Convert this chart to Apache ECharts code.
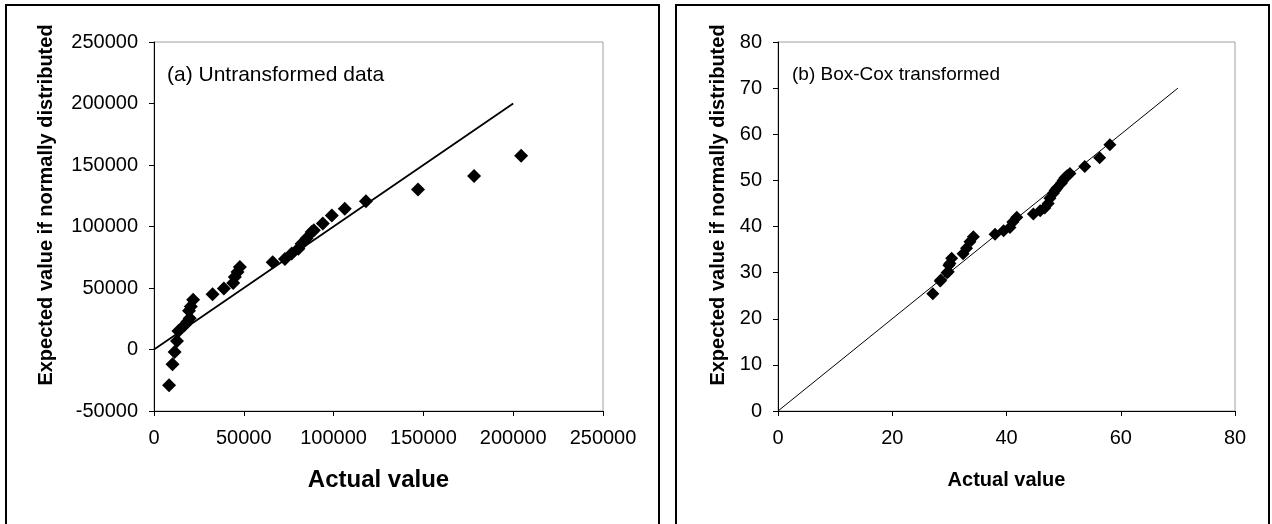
<!DOCTYPE html>
<html>
<head>
<meta charset="utf-8">
<script src="https://cdn.jsdelivr.net/npm/echarts@6/dist/echarts.min.js"></script>
<style>
  html, body { margin: 0; padding: 0; background: #fff; }
  #chart { width: 1272px; height: 524px; }
</style>
</head>
<body>
<div id="chart"></div>
<script>
// (a) untransformed data: actual value vs expected value under normality
const rawActual = [8400, 10300, 11500, 12800, 13600, 17100, 18600, 19900, 19500, 20500, 21800,
  32600, 38900, 44100, 45000, 46500, 47800, 66100, 72900, 76700, 80400, 82200, 85000, 87800,
  89000, 94000, 99000, 106200, 118000, 147000, 178200, 204400];
const rawExpected = [-29000, -12000, -2000, 7000, 15000, 20000, 22500, 25500, 31500, 35000, 40500,
  45000, 49500, 54000, 59000, 63000, 67000, 71000, 73500, 78000, 82000, 86000, 90500, 95500,
  97000, 102500, 109000, 114500, 120500, 130000, 141000, 157500];

// (b) Box-Cox transformed data
const bcActual = [27.1, 28.4, 28.5, 29.6, 29.8, 29.9, 30.1, 30.4, 32.4, 33.0, 33.6, 34.2,
  38.0, 39.5, 40.6, 41.1, 41.8, 44.7, 45.9, 46.7, 47.3, 47.6, 48.2, 48.5, 48.8, 49.6, 49.9,
  50.2, 50.6, 51.1, 53.7, 56.3, 58.1];
const bcExpected = [25.4, 28.2, 28.4, 30.0, 30.2, 31.6, 32.0, 33.1, 34.1, 35.3, 36.7, 37.8,
  38.3, 39.1, 39.8, 41.0, 42.0, 42.7, 43.4, 44.0, 45.0, 46.1, 47.2, 47.8, 48.3, 49.4, 50.0,
  50.5, 51.0, 51.5, 53.0, 54.9, 57.7];

// y = x reference lines (start and end values)
const rawRefLine = [0, 200000];
const bcRefLine = [0, 70];

// axis ranges
const rawRange = { min: -50000, max: 250000, xMin: 0, xMax: 250000, step: 50000 };
const bcRange = { yMin: 0, yMax: 80, yStep: 10, xMin: 0, xMax: 80, xStep: 20 };

const panelTitles = ['(a) Untransformed data', '(b) Box-Cox transformed'];
const xTitle = 'Actual value';
const yTitle = 'Expected value if normally distributed';

const FONT = "'Liberation Sans', Arial, sans-serif";

function zip(a, b) { return a.map((v, i) => [v, b[i]]); }

// plain integer tick labels, no thousands separators
const plain = v => String(v);

function axis(gridIndex, min, max, interval, extra) {
  return Object.assign({
    type: 'value', gridIndex, min, max, interval,
    axisLine: { show: true, onZero: false, lineStyle: { color: '#000', width: 1 } },
    axisTick: { show: true, length: 5, lineStyle: { color: '#000', width: 1 } },
    splitLine: { show: false }
  }, extra);
}

const tickLabel = margin => ({ color: '#000', fontSize: 20, fontFamily: FONT, margin, formatter: plain });

const chart = echarts.init(document.getElementById('chart'), null, { renderer: 'canvas' });

chart.setOption({
  animation: false,
  backgroundColor: '#fff',
  grid: [
    { left: 154, top: 42, width: 449, height: 369, show: true, borderColor: '#a0a0a0', borderWidth: 1, backgroundColor: 'transparent' },
    { left: 778, top: 42, width: 457, height: 369, show: true, borderColor: '#a0a0a0', borderWidth: 1, backgroundColor: 'transparent' }
  ],
  xAxis: [
    axis(0, rawRange.xMin, rawRange.xMax, rawRange.step, {
      name: xTitle, nameLocation: 'middle', nameGap: 57,
      nameTextStyle: { color: '#000', fontSize: 24, fontWeight: 'bold', fontFamily: FONT },
      axisLabel: tickLabel(17)
    }),
    axis(1, bcRange.xMin, bcRange.xMax, bcRange.xStep, {
      name: xTitle, nameLocation: 'middle', nameGap: 59,
      nameTextStyle: { color: '#000', fontSize: 20, fontWeight: 'bold', fontFamily: FONT },
      axisLabel: tickLabel(17)
    })
  ],
  yAxis: [
    axis(0, rawRange.min, rawRange.max, rawRange.step, { axisLabel: tickLabel(16) }),
    axis(1, bcRange.yMin, bcRange.yMax, bcRange.yStep, { axisLabel: tickLabel(16) })
  ],
  graphic: [
    { type: 'rect', z: -1, shape: { x: 6, y: 5, width: 653, height: 540 }, style: { fill: 'none', stroke: '#000', lineWidth: 2 } },
    { type: 'rect', z: -1, shape: { x: 676, y: 5, width: 593, height: 540 }, style: { fill: 'none', stroke: '#000', lineWidth: 2 } },
    { type: 'text', x: 46, y: 205, rotation: Math.PI / 2,
      style: { text: yTitle, fill: '#000', font: 'bold 20px ' + FONT, align: 'center', verticalAlign: 'middle' } },
    { type: 'text', x: 718, y: 205, rotation: Math.PI / 2,
      style: { text: yTitle, fill: '#000', font: 'bold 20px ' + FONT, align: 'center', verticalAlign: 'middle' } },
    { type: 'text', x: 167, y: 75,
      style: { text: panelTitles[0], fill: '#000', font: '21px ' + FONT, align: 'left', verticalAlign: 'middle' } },
    { type: 'text', x: 792, y: 75,
      style: { text: panelTitles[1], fill: '#000', font: '19px ' + FONT, align: 'left', verticalAlign: 'middle' } }
  ],
  series: [
    {
      type: 'line', xAxisIndex: 0, yAxisIndex: 0,
      data: zip(rawRefLine, rawRefLine), showSymbol: false, symbol: 'none',
      lineStyle: { color: '#000', width: 1.8 }, silent: true, z: 1
    },
    {
      type: 'scatter', xAxisIndex: 0, yAxisIndex: 0,
      data: zip(rawActual, rawExpected), symbol: 'diamond', symbolSize: 14,
      itemStyle: { color: '#000', opacity: 1 }, z: 2
    },
    {
      type: 'line', xAxisIndex: 1, yAxisIndex: 1,
      data: zip(bcRefLine, bcRefLine), showSymbol: false, symbol: 'none',
      lineStyle: { color: '#000', width: 1 }, silent: true, z: 1
    },
    {
      type: 'scatter', xAxisIndex: 1, yAxisIndex: 1,
      data: zip(bcActual, bcExpected), symbol: 'diamond', symbolSize: 13,
      itemStyle: { color: '#000', opacity: 1 }, z: 2
    }
  ]
});
</script>
</body>
</html>
